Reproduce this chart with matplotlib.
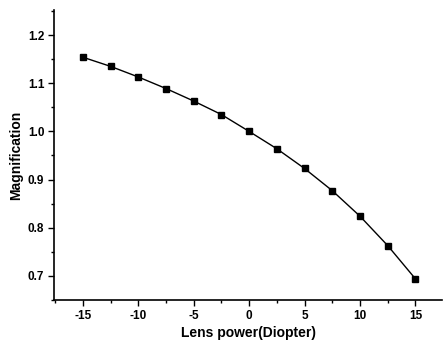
import matplotlib
matplotlib.use("Agg")
import matplotlib.pyplot as plt
from matplotlib.ticker import MultipleLocator

power = [-15, -12.5, -10, -7.5, -5, -2.5, 0, 2.5, 5, 7.5, 10, 12.5, 15]
magnification = [1.154, 1.135, 1.113, 1.089, 1.063, 1.035, 1.000, 0.964, 0.923, 0.877, 0.824, 0.763, 0.694]
xticks = [-15, -10, -5, 0, 5, 10, 15]
yticks = [0.7, 0.8, 0.9, 1.0, 1.1, 1.2]

plt.rcParams['font.family'] = ['Liberation Sans', 'DejaVu Sans']
fig = plt.figure(figsize=(4.48, 3.43), dpi=100)
ax = fig.add_axes([54/448, 1 - 300/343, (442-54)/448, (300-10)/343])
ax.plot(power, magnification, color='black', lw=1.0, marker='s', ms=4, mfc='black', mec='black')
ax.set_xlim(-17.6, 17.4)
ax.set_ylim(0.65, 1.252)
ax.set_xticks(xticks)
ax.set_yticks(yticks)
ax.set_xticklabels([str(t) for t in xticks])
ax.set_yticklabels([f"{t:.1f}" for t in yticks])
ax.xaxis.set_minor_locator(MultipleLocator(2.5))
ax.yaxis.set_minor_locator(MultipleLocator(0.05))
for s in ['top', 'right']:
    ax.spines[s].set_visible(False)
for s in ['left', 'bottom']:
    ax.spines[s].set_linewidth(1.2)
ax.tick_params(which='major', direction='out', length=4, width=1, labelsize=8.5, pad=3)
ax.tick_params(which='minor', direction='out', length=2.5, width=1)
for lab in ax.get_xticklabels() + ax.get_yticklabels():
    lab.set_fontweight('bold')
ax.set_xlabel('Lens power(Diopter)', fontsize=10, fontweight='bold', labelpad=3)
ax.set_ylabel('Magnification', fontsize=10, fontweight='bold', labelpad=3)
fig.savefig('out.png', dpi=100)
